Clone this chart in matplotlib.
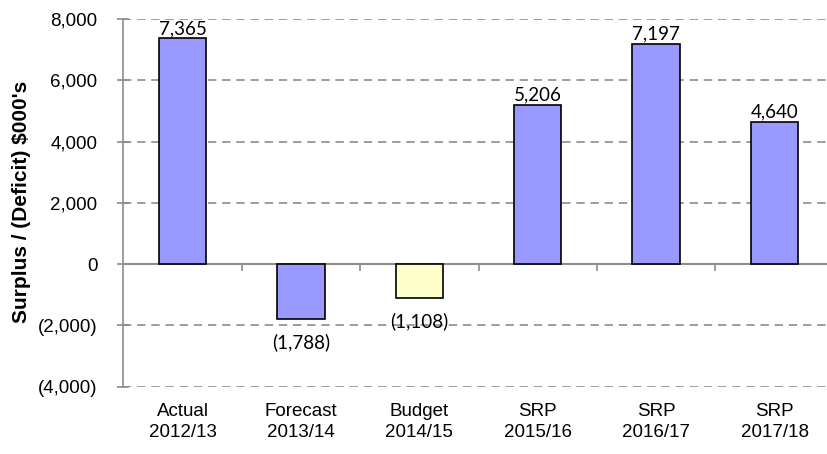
import matplotlib
matplotlib.use("Agg")
import matplotlib.pyplot as plt
import numpy as np
from matplotlib.ticker import FuncFormatter

categories = ["Actual\n2012/13", "Forecast\n2013/14", "Budget\n2014/15",
              "SRP\n2015/16", "SRP\n2016/17", "SRP\n2017/18"]
values = [7365, -1788, -1108, 5206, 7197, 4640]
bar_colors = ["#9999FF", "#9999FF", "#FFFFCC", "#9999FF", "#9999FF", "#9999FF"]
y_ticks = [-4000, -2000, 0, 2000, 4000, 6000, 8000]

fig = plt.figure(figsize=(8.27, 4.54), dpi=100)
ax = fig.add_axes([123.3 / 827, 67.3 / 454, (833.7 - 123.3) / 827, (386.7 - 19) / 454])

x = np.arange(len(categories))
ax.bar(x, values, width=0.4, color=bar_colors, edgecolor="black", linewidth=1.2, zorder=3)

ax.set_xlim(-0.5, len(categories) - 0.5)
ax.set_ylim(-4000, 8000)
ax.set_yticks(y_ticks)
ax.yaxis.set_major_formatter(FuncFormatter(
    lambda v, p: "0" if v == 0 else (f"{v:,.0f}" if v > 0 else f"({-v:,.0f})")))
ax.yaxis.grid(True, linestyle=(0, (5, 3.5)), color="#8C8C8C", linewidth=1.2, zorder=0)
ax.set_axisbelow(True)

for s in ["top", "right", "bottom"]:
    ax.spines[s].set_visible(False)
ax.spines["left"].set_color("#8C8C8C")
ax.spines["left"].set_linewidth(1.2)

ax.tick_params(axis="y", direction="inout", length=9, width=1.2, color="#8C8C8C",
               labelsize=13.5, pad=14)
ax.set_xticks(x)
ax.set_xticklabels(categories, fontsize=13.5, linespacing=1.25)
ax.tick_params(axis="x", length=0, pad=12)
for lab in ax.get_xticklabels() + ax.get_yticklabels():
    lab.set_fontfamily("Liberation Sans")

# zero line and category boundary ticks
ax.axhline(0, color="#8C8C8C", linewidth=1.5, zorder=2)
bounds = np.arange(0.5, len(categories) - 0.5, 1.0)
ax.vlines(bounds, -210, 0, color="#8C8C8C", linewidth=1.2, zorder=2)

# data labels
for xi, v in zip(x, values):
    txt = f"{v:,}" if v >= 0 else f"({-v:,})"
    if v >= 0:
        ax.annotate(txt, (xi, v), xytext=(0, 1), textcoords="offset points",
                    ha="center", va="bottom", fontsize=13.5, family="Lato", zorder=4)
    else:
        ax.annotate(txt, (xi, v), xytext=(0, -10), textcoords="offset points",
                    ha="center", va="top", fontsize=13.5, family="Lato", zorder=4)

fig.text(22 / 827, 1 - 202 / 454, "Surplus / (Deficit) $000's", rotation=90,
         ha="center", va="center", fontsize=15, fontweight="bold", family="Liberation Sans")

fig.savefig("out.png", dpi=100)
